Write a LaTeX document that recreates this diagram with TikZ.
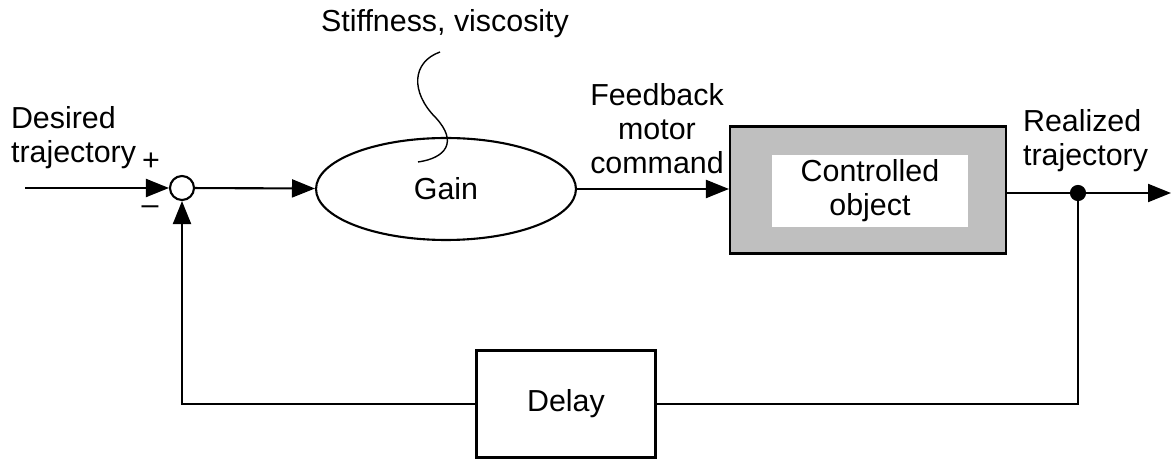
\documentclass[tikz,border=0pt]{standalone}
\usepackage{fontspec}
\setmainfont{Liberation Sans}
\usepackage{tikz}
\usetikzlibrary{shapes.geometric,arrows.meta,calc,positioning}

\begin{document}
\begin{tikzpicture}[x=0.02cm, y=-0.02cm, line width=1.2pt,
    font=\fontsize{17.3}{19.3}\selectfont,
    tip/.style={-{Triangle[length=0.46cm,width=0.36cm]}},
    lbl/.style={inner sep=0pt, align=center}]
   \useasboundingbox (0,0) rectangle (1171,462);
   \begin{scope}[every node/.style={draw, inner sep=0pt}]
    \node (sum) [circle, minimum size=0.48cm] at (182,188) {};
    \node (gain) [ellipse, minimum width=5.2cm, minimum height=2.04cm] at (446,189) {Gain};
    \node (plant) [rectangle, fill=gray!50, minimum width=5.52cm, minimum height=2.54cm] at (868,190) {};
    \node (inner) [rectangle, draw=none, fill=white, minimum width=3.92cm, minimum height=1.44cm, align=center] at (870,191) {Controlled\\object};
    \node (delay) [rectangle, minimum width=3.58cm, minimum height=2.14cm] at (566,404) {Delay};
    \node (split) [circle, fill=black, minimum size=0.28cm] at (1078,193) {};
   \end{scope}
   % labels
   \node (desired) [lbl, anchor=west, align=left] at (10,138) {Desired\\trajectory};
   \node (plus) [lbl] at (151,162) {+};
   \node (minus) [lbl] at (150,210) {--};
   \node (stiff) [lbl] at (445,24) {Stiffness, viscosity};
   \node (fmc) [lbl] at (657,129) {Feedback\\motor\\command};
   \node (real) [lbl, anchor=west, align=left] at (1022,141) {Realized\\trajectory};
   \coordinate (in) at (25,188);
   \coordinate (out) at (1171,193);
   \coordinate (s1) at (440,52);
   \coordinate (s2) at (418,162);
   % connectors
   \begin{scope}[tip]
    \draw (in) -- (sum);
    \draw (sum) -- (gain);
    \draw (gain) -- (gain.east -| plant.west);
    \draw (plant.east |- split) -- (out);
    \draw (delay) -| (sum);
   \end{scope}
   \draw (split) |- (delay);
   \draw[line width=0.8pt] (s1) .. controls (412,62) and (410,92) .. (436,118)
        .. controls (458,142) and (446,158) .. (s2);
\end{tikzpicture}
\end{document}
